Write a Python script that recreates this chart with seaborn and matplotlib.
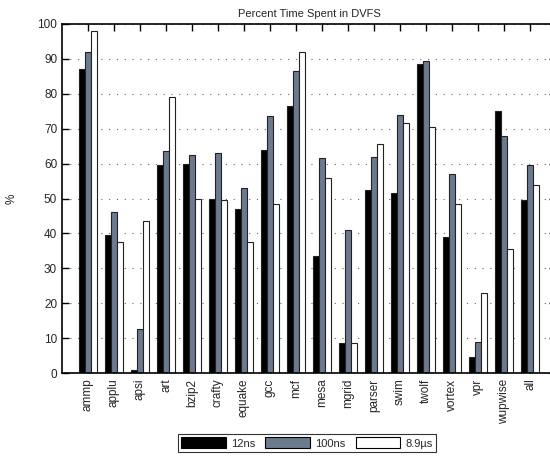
import numpy as np
import pandas as pd
import matplotlib
matplotlib.use("Agg")
import matplotlib.pyplot as plt
import seaborn as sns
from matplotlib.patches import Patch

benchmarks = ["ammp", "applu", "apsi", "art", "bzip2", "crafty", "equake", "gcc",
              "mcf", "mesa", "mgrid", "parser", "swim", "twolf", "vortex", "vpr",
              "wupwise", "all"]
t_12ns = [87, 39.5, 0.8, 59.5, 60, 50, 47, 64, 76.5, 33.5, 8.5, 52.5, 51.5, 88.5, 39, 4.5, 75, 49.5]
t_100ns = [92, 46, 12.5, 63.5, 62.5, 63, 53, 73.5, 86.5, 61.5, 41, 62, 74, 89.5, 57, 9, 68, 59.5]
t_8_9us = [98, 37.5, 43.5, 79, 50, 49.5, 37.5, 48.5, 92, 56, 8.5, 65.5, 71.5, 70.5, 48.5, 23, 35.5, 54]
series = ["12ns", "100ns", "8.9\u00b5s"]
colors = ["black", "#6b7a8f", "white"]

df = pd.DataFrame({
    "benchmark": benchmarks * 3,
    "latency": np.repeat(series, len(benchmarks)),
    "pct": t_12ns + t_100ns + t_8_9us,
})

sns.set_style("ticks", {"xtick.direction": "in", "ytick.direction": "in"})
plt.rcParams["font.family"] = ["Liberation Sans", "DejaVu Sans"]

fig = plt.figure(figsize=(5.5, 4.57), dpi=100)
ax = fig.add_axes([62 / 550, 1 - 373 / 457, 494 / 550, 349 / 457])

sns.barplot(data=df, x="benchmark", y="pct", hue="latency", palette=colors,
            width=0.7, edgecolor="#222222", linewidth=0.8, saturation=1,
            legend=False, ax=ax)

ax.set_xlim(-1, len(benchmarks))
ax.set_ylim(0, 100)
ax.set_yticks(range(0, 101, 10))
ax.yaxis.grid(True, linestyle=(0, (1, 6)), color="#666666", linewidth=0.8)
ax.set_axisbelow(True)
ax.tick_params(axis="x", rotation=90, labelsize=8.5, direction="in", length=5, width=1,
               top=True, bottom=True, color="black", pad=4)
ax.tick_params(axis="y", labelsize=8.5, direction="in", length=5, width=1,
               left=True, right=True, color="black")
for s in ax.spines.values():
    s.set_visible(True)
    s.set_color("black")
    s.set_linewidth(1.2)

ax.set_xlabel("")
ax.set_ylabel("%", fontsize=8.5)
ax.yaxis.set_label_coords(-44 / 494, 0.5)
ax.set_title("Percent Time Spent in DVFS", fontsize=8, pad=5)

handles = [Patch(facecolor=c, edgecolor="black", linewidth=0.8) for c in colors]
leg = fig.legend(handles, series, loc="center", bbox_to_anchor=(307 / 550, 1 - 443 / 457),
                 ncol=3, fontsize=8, frameon=True, fancybox=False, handlelength=4,
                 handleheight=1.1, columnspacing=0.9, borderpad=0.3, handletextpad=0.5)
leg.get_frame().set_edgecolor("black")
leg.get_frame().set_linewidth(0.8)

fig.savefig("out.png", dpi=100)
